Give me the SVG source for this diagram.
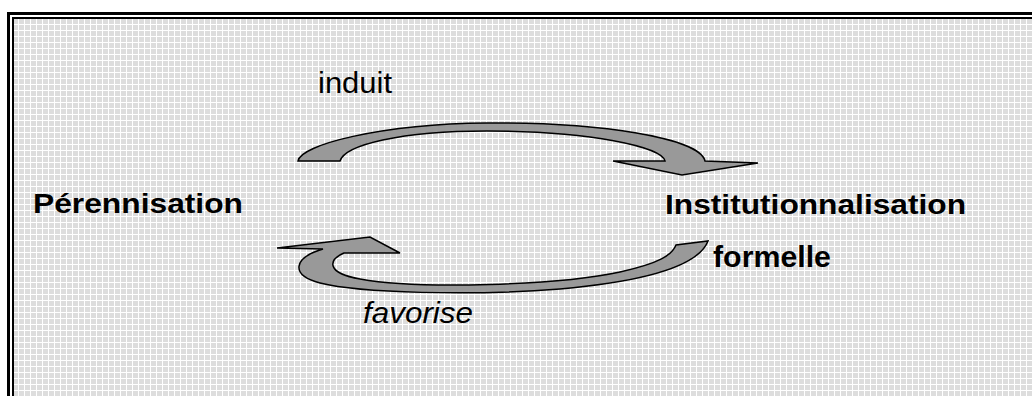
<svg xmlns="http://www.w3.org/2000/svg" width="1032" height="396" viewBox="0 0 1032 396">
  <defs>
    <pattern id="grid" width="6" height="6" patternUnits="userSpaceOnUse">
      <rect width="6" height="6" fill="#dddddd"/>
      <rect x="0" y="0" width="1" height="6" fill="#ffffff"/>
      <rect x="0" y="0" width="6" height="1" fill="#ffffff"/>
    </pattern>
  </defs>
  <style>
    .lbl { font-family: "Liberation Sans", Arial, sans-serif; fill: #000; }
    .bold { font-weight: bold; }
    .arrow { fill: #999999; stroke: #000; stroke-width: 1.5; stroke-linejoin: miter; }
  </style>
  <rect width="1032" height="396" fill="#ffffff"/>
  <g id="frame">
    <rect x="13" y="18" width="1040" height="400" fill="url(#grid)" stroke="#000" stroke-width="2"/>
    <rect x="8.5" y="13.5" width="1040" height="400" fill="none" stroke="#000" stroke-width="3"/>
  </g>
  <g id="connectors">
    <path class="arrow" d="M 298,161 C 300,145 380,124 487,123 C 600,122 700,138 705,161 L 758,163 L 682,175 L 613,161 L 665,161 C 662,147 590,131 487,131 C 400,131 345,145 340,161 Z"/>
    <path class="arrow" d="M 277,248 L 370,237 L 400,253 L 344,253 C 328,260 326,273 360,279 C 420,290 560,285 620,272 C 660,263 672,255 676,245 L 708,241 C 700,262 660,280 560,289 C 470,296 360,293 320,283 C 290,275 293,258 323,249 Z"/>
    <text class="lbl" x="318" y="93" font-size="29" textLength="74" lengthAdjust="spacingAndGlyphs">induit</text>
    <text class="lbl" x="363" y="323" font-size="29" font-style="italic" textLength="110" lengthAdjust="spacingAndGlyphs">favorise</text>
  </g>
  <g id="node-perennisation">
    <text class="lbl bold" x="33" y="213" font-size="28" textLength="210" lengthAdjust="spacingAndGlyphs">Pérennisation</text>
  </g>
  <g id="node-institutionnalisation">
    <text class="lbl bold" x="665" y="213.5" font-size="28" textLength="301" lengthAdjust="spacingAndGlyphs">Institutionnalisation</text>
    <text class="lbl bold" x="713" y="267" font-size="30" textLength="118" lengthAdjust="spacingAndGlyphs">formelle</text>
  </g>
</svg>
